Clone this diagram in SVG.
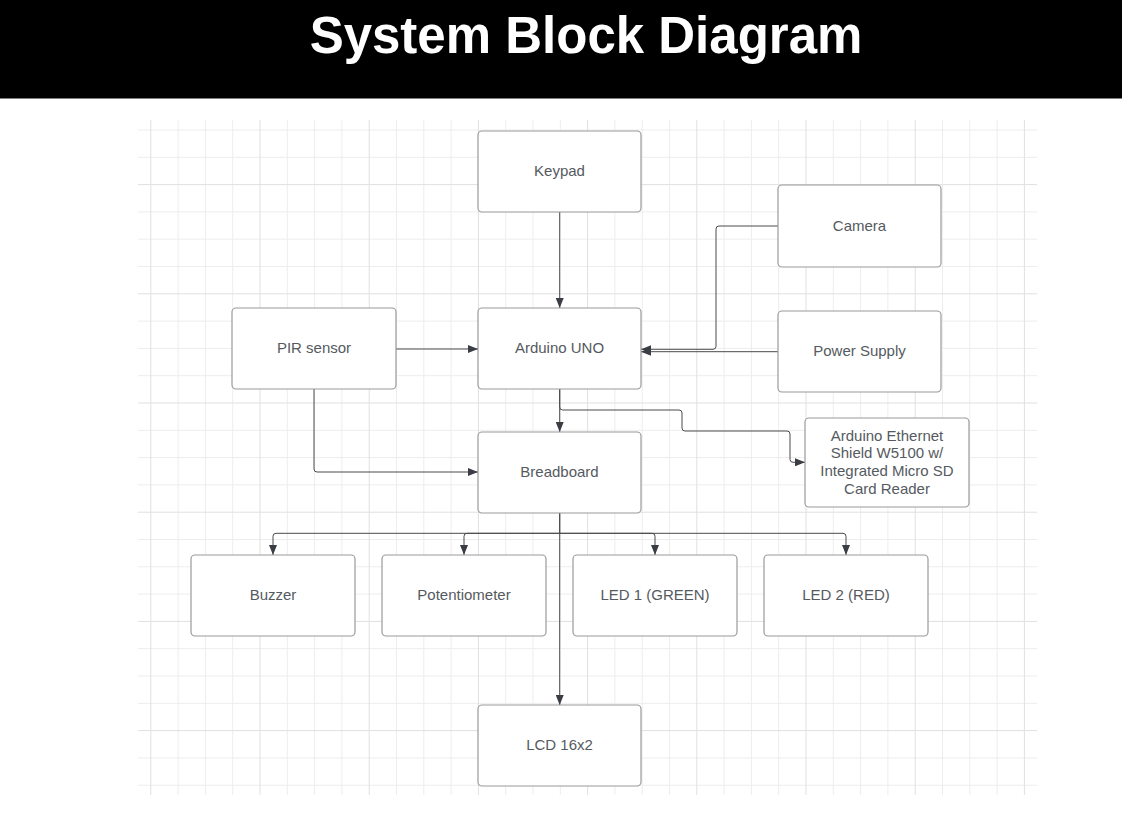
<svg xmlns="http://www.w3.org/2000/svg" width="1122" height="828" viewBox="0 0 1122 828">
<style>
.minor{stroke:#ededed;stroke-width:1;fill:none}
.major{stroke:#e0e0e0;stroke-width:1;fill:none}
.box{fill:#ffffff;stroke:#9a9a9a;stroke-width:1.2}
.lbl{font-family:"Liberation Sans",Arial,sans-serif;font-size:15px;fill:#555a60;text-anchor:middle}
.wire{fill:none;stroke:#4a4a4a;stroke-width:1;marker-end:url(#arr)}
.wire0{fill:none;stroke:#4a4a4a;stroke-width:1}
</style>
<defs>
<marker id="arr" viewBox="0 0 10 8" refX="10" refY="4" markerWidth="10" markerHeight="8" markerUnits="userSpaceOnUse" orient="auto">
<path d="M0,0 L10,4 L0,8 z" fill="#3a3d44"/>
</marker>
</defs>
<rect x="0" y="0" width="1122" height="828" fill="#ffffff"/>
<rect x="0" y="0" width="1122" height="98.5" fill="#000000"/>
<text x="586" y="52.5" font-family="'Liberation Sans',Arial,sans-serif" font-size="51" font-weight="bold" fill="#ffffff" text-anchor="middle">System Block Diagram</text>
<g id="grid">
<path class="minor" d="M178.1 120V795M205.4 120V795M232.7 120V795M287.3 120V795M314.6 120V795M341.9 120V795M396.5 120V795M423.8 120V795M451.1 120V795M505.7 120V795M533 120V795M560.3 120V795M614.9 120V795M642.2 120V795M669.5 120V795M724.1 120V795M751.4 120V795M778.7 120V795M833.3 120V795M860.6 120V795M887.9 120V795M942.5 120V795M969.8 120V795M997.1 120V795M138 130H1037M138 157.3H1037M138 211.9H1037M138 239.2H1037M138 266.5H1037M138 321.1H1037M138 348.4H1037M138 375.7H1037M138 430.3H1037M138 457.6H1037M138 484.9H1037M138 539.5H1037M138 566.8H1037M138 594.1H1037M138 648.7H1037M138 676H1037M138 703.3H1037M138 757.9H1037M138 785.2H1037"/>
<path class="major" d="M150.8 120V795M260 120V795M369.2 120V795M478.4 120V795M587.6 120V795M696.8 120V795M806 120V795M915.2 120V795M1024.4 120V795M138 184.6H1037M138 293.8H1037M138 403H1037M138 512.2H1037M138 621.4H1037M138 730.6H1037"/>
</g>
<g id="connectors">
<path class="wire" d="M559.7 212V308"/>
<path class="wire" d="M778 226H719Q716 226 716 229V346.3Q716 349.3 713 349.3H641"/>
<path class="wire" d="M778 351.7H641"/>
<path class="wire" d="M559.7 389V432"/>
<path class="wire" d="M559.7 389V407Q559.7 410 562.7 410H679Q682 410 682 413V428Q682 431 685 431H787Q790 431 790 434V459.3Q790 462.3 793 462.3H805"/>
<path class="wire" d="M396 349H478"/>
<path class="wire" d="M314 389V469Q314 472 317 472H478"/>
<path class="wire0" d="M559.7 513V533.3"/>
<path class="wire" d="M559.7 533.3H276Q273 533.3 273 536.3V555"/>
<path class="wire" d="M559.7 533.3H467Q464 533.3 464 536.3V555"/>
<path class="wire" d="M559.7 533.3H652Q655 533.3 655 536.3V555"/>
<path class="wire" d="M559.7 533.3H843Q846 533.3 846 536.3V555"/>
<path class="wire" d="M559.7 513V705"/>
</g>
<g id="keypad"><rect class="box" x="478" y="131" width="163" height="81" rx="4"/><text class="lbl" x="559.5" y="176">Keypad</text></g>
<g id="arduino"><rect class="box" x="478" y="308" width="163" height="81" rx="4"/><text class="lbl" x="559.5" y="353.2">Arduino UNO</text></g>
<g id="breadboard"><rect class="box" x="478" y="432" width="163" height="81" rx="4"/><text class="lbl" x="559.5" y="477">Breadboard</text></g>
<g id="lcd"><rect class="box" x="478" y="705" width="163" height="81" rx="4"/><text class="lbl" x="559.5" y="750">LCD 16x2</text></g>
<g id="pir"><rect class="box" x="232" y="308" width="164" height="81" rx="4"/><text class="lbl" x="314" y="353.2">PIR sensor</text></g>
<g id="camera"><rect class="box" x="778" y="185" width="163" height="82" rx="4"/><text class="lbl" x="859.5" y="230.5">Camera</text></g>
<g id="power"><rect class="box" x="778" y="311" width="163" height="81" rx="4"/><text class="lbl" x="859.5" y="356">Power Supply</text></g>
<g id="ethernet"><rect class="box" x="805" y="418" width="164" height="89" rx="4"/>
<text class="lbl" x="887" y="440.5">Arduino Ethernet</text>
<text class="lbl" x="887" y="458.3">Shield W5100 w/</text>
<text class="lbl" x="887" y="476.1">Integrated Micro SD</text>
<text class="lbl" x="887" y="493.9">Card Reader</text></g>
<g id="buzzer"><rect class="box" x="191" y="555" width="164" height="81" rx="4"/><text class="lbl" x="273" y="600">Buzzer</text></g>
<g id="potentiometer"><rect class="box" x="382" y="555" width="164" height="81" rx="4"/><text class="lbl" x="464" y="600">Potentiometer</text></g>
<g id="led1"><rect class="box" x="573" y="555" width="164" height="81" rx="4"/><text class="lbl" x="655" y="600">LED 1 (GREEN)</text></g>
<g id="led2"><rect class="box" x="764" y="555" width="164" height="81" rx="4"/><text class="lbl" x="846" y="600">LED 2 (RED)</text></g>
</svg>
